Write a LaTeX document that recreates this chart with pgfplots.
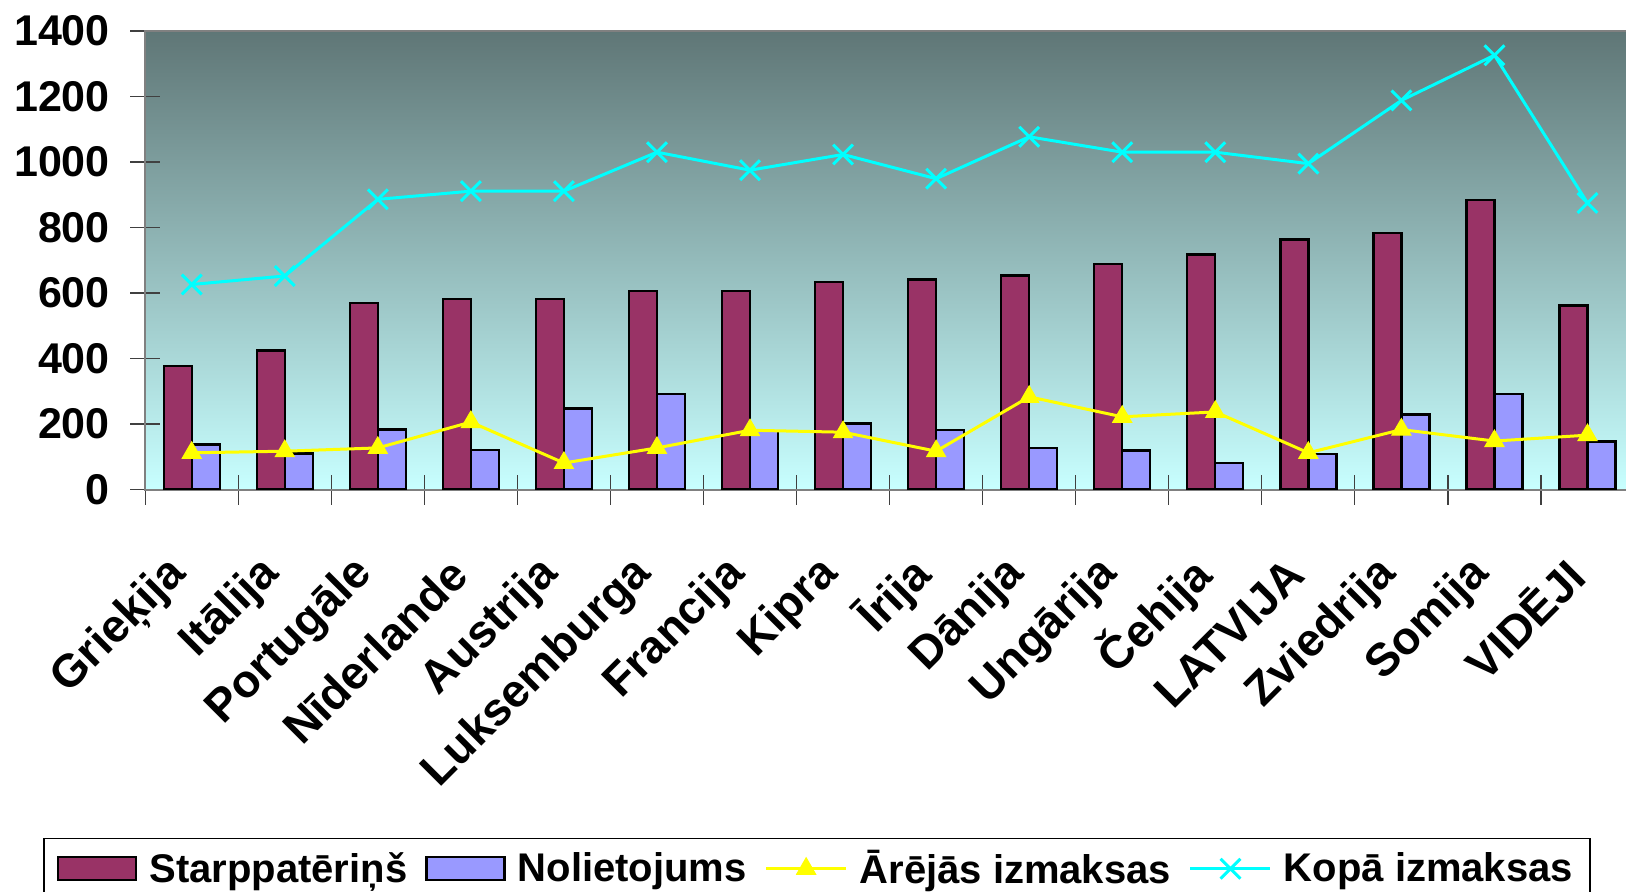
\documentclass[border=0pt]{standalone}
\usepackage{fontspec}
\setmainfont{Liberation Sans}
\usepackage{pgfplots}
\pgfplotsset{compat=1.18}
\definecolor{maroonbar}{HTML}{993366}
\definecolor{bluebar}{HTML}{9999FF}
\definecolor{gtop}{HTML}{5F7676}
\definecolor{gbot}{HTML}{C8FFFF}
\definecolor{lyellow}{HTML}{FFFF00}
\definecolor{lcyan}{HTML}{00FFFF}
\pgfplotsset{
  lineleg/.style={legend image code/.code={\draw[##1, mark repeat=2, mark phase=2] plot coordinates {(0pt,0pt) (20pt,0pt) (40pt,0pt)};}},
  barleg/.style={legend image code/.code={\draw[fill=#1, draw=black, line width=1.2pt] (0pt,-5.75pt) rectangle (39pt,5.75pt);}},
}
\begin{document}
\begin{tikzpicture}
\begin{axis}[
  at={(0,0)}, anchor=south west,
  scale only axis, width=744.4pt, height=229.25pt,
  xmin=-0.5, xmax=15.5, ymin=0, ymax=1400,
  ytick={0,200,...,1400},
  xtick={0,...,15},
  xticklabels={Grieķija,Itālija,Portugāle,Nīderlande,Austrija,Luksemburga,Francija,Kipra,Īrija,Dānija,Ungārija,Čehija,LATVIJA,Zviedrija,Somija,VIDĒJI},
  minor xtick={-0.5,0.5,...,15.5},
  xtick pos=bottom, ytick pos=left,
  tick align=center,
  major tick length=15pt, minor tick length=15pt,
  major x tick style={draw=none},
  minor x tick style={draw=gray!50!black, line width=0.6pt},
  major y tick style={draw=gray!50!black, line width=0.6pt},
  axis line style={draw=gray, line width=1pt},
  axis background/.style={top color=gtop, bottom color=gbot},
  /pgf/number format/1000 sep={},
  /pgf/number format/assume math mode=true,
  yticklabel style={font=\bfseries\fontsize{21.5}{21.5}\selectfont, anchor=east, inner sep=0pt, xshift=-10pt},
  xticklabel style={font=\bfseries\fontsize{23}{23}\selectfont, inner sep=0pt, yshift=-31pt, xshift=-6pt, rotate=45, anchor=east},
  legend style={at={(-0.06831,-0.7601)}, anchor=north west, draw=black, line width=0.6pt, fill=white,
    font=\bfseries\fontsize{20}{20}\selectfont, inner xsep=6.5pt, inner ysep=4pt,
    /tikz/every odd column/.append style={column sep=4pt},
    /tikz/every even column/.append style={column sep=7pt}},
  legend columns=4,
  legend cell align=left,
]
\addplot[ybar, bar width=14pt, bar shift=-7pt, fill=maroonbar, draw=black, line width=1.2pt, barleg=maroonbar]
  coordinates {(0,377) (1,425) (2,570) (3,582) (4,582) (5,606) (6,606) (7,633) (8,641) (9,654) (10,689) (11,718) (12,763) (13,784) (14,884) (15,562)};
\addlegendentry{Starppatēriņš}
\addplot[ybar, bar width=14pt, bar shift=7pt, fill=bluebar, draw=black, line width=1.2pt, barleg=bluebar]
  coordinates {(0,138) (1,110) (2,183) (3,120) (4,247) (5,292) (6,178) (7,202) (8,181) (9,127) (10,119) (11,81) (12,109) (13,229) (14,292) (15,146)};
\addlegendentry{Nolietojums}
\addplot[lyellow, line width=1.5pt, mark=triangle*, mark size=5.5pt, mark options={fill=lyellow, draw=lyellow, line width=0.5pt}, lineleg]
  coordinates {(0,112) (1,117) (2,127) (3,206) (4,81) (5,127) (6,181) (7,175) (8,117) (9,283) (10,222) (11,237) (12,112) (13,183) (14,148) (15,166)};
\addlegendentry{Ārējās izmaksas}
\addplot[lcyan, line width=1.5pt, mark=x, mark size=7pt, mark options={draw=lcyan, line width=1.5pt}, lineleg]
  coordinates {(0,626) (1,652) (2,886) (3,911) (4,911) (5,1030) (6,975) (7,1023) (8,949) (9,1077) (10,1030) (11,1030) (12,995) (13,1188) (14,1326) (15,875)};
\addlegendentry{Kopā izmaksas}
\end{axis}
\pgfresetboundingbox
\useasboundingbox (-72.6pt,-200.75pt) rectangle (740.4pt,244.75pt);
\end{tikzpicture}
\end{document}
